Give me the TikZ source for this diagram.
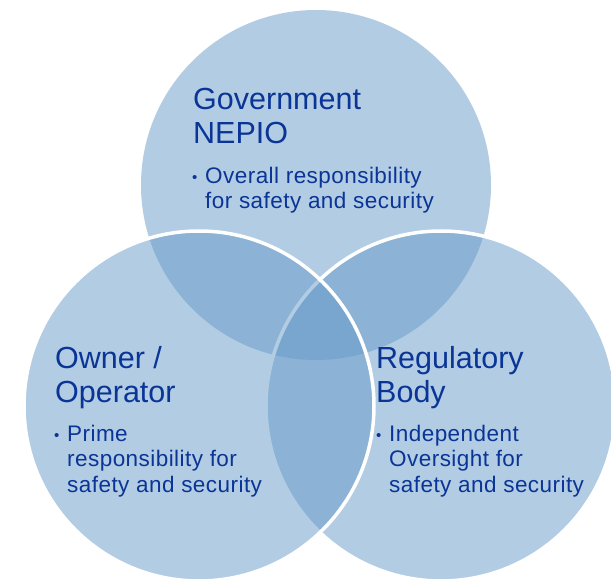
\documentclass[tikz,border=0pt]{standalone}
\usepackage{fontspec}
\setmainfont{Liberation Sans}
\newfontfamily\spaced[LetterSpace=2]{Liberation Sans}
\usepackage{xcolor}
\definecolor{blob}{RGB}{103,155,201}
\definecolor{ink}{RGB}{10,52,150}
\tikzset{ring/.style={fill=blob, fill opacity=0.5, draw=white, line width=3.5pt},
  title/.style={anchor=base west, text=ink, font=\fontsize{30.5}{34}\selectfont, align=left, inner sep=0pt},
  point/.style={anchor=base west, text=ink, font=\spaced\fontsize{22.5}{25.5}\selectfont, align=left, inner sep=0pt},
  dot/.style={anchor=base west, text=ink, font=\fontsize{15}{15}\selectfont, inner sep=0pt}}

\begin{document}
\begin{tikzpicture}[x=1pt,y=-1pt]

        \def\rad{175pt}
        \useasboundingbox[fill=white] (0,0) rectangle (611,580);

        % circles
        \fill[blob, fill opacity=0.5] (316,185) circle (\rad);
        \draw[ring] (441,406) circle (\rad);
        \draw[ring] (199,406) circle (\rad);

        % top
        \node[title] (gov) at (193,144) {Government\\NEPIO};
        \node[dot] (govdot) at (192,183) {\textbullet};
        \node[point] (govtxt) at (205,209) {Overall responsibility\\for safety and security};

        % left
        \node[title] (own) at (55,402) {Owner /\\Operator};
        \node[dot] (owndot) at (54,440) {\textbullet};
        \node[point] (owntxt) at (67,492) {Prime\\responsibility for\\safety and security};

        % right
        \node[title] (reg) at (376,402) {Regulatory\\Body};
        \node[dot] (regdot) at (376,440) {\textbullet};
        \node[point] (regtxt) at (389,492) {Independent\\Oversight for\\safety and security};

\end{tikzpicture}
\end{document}
